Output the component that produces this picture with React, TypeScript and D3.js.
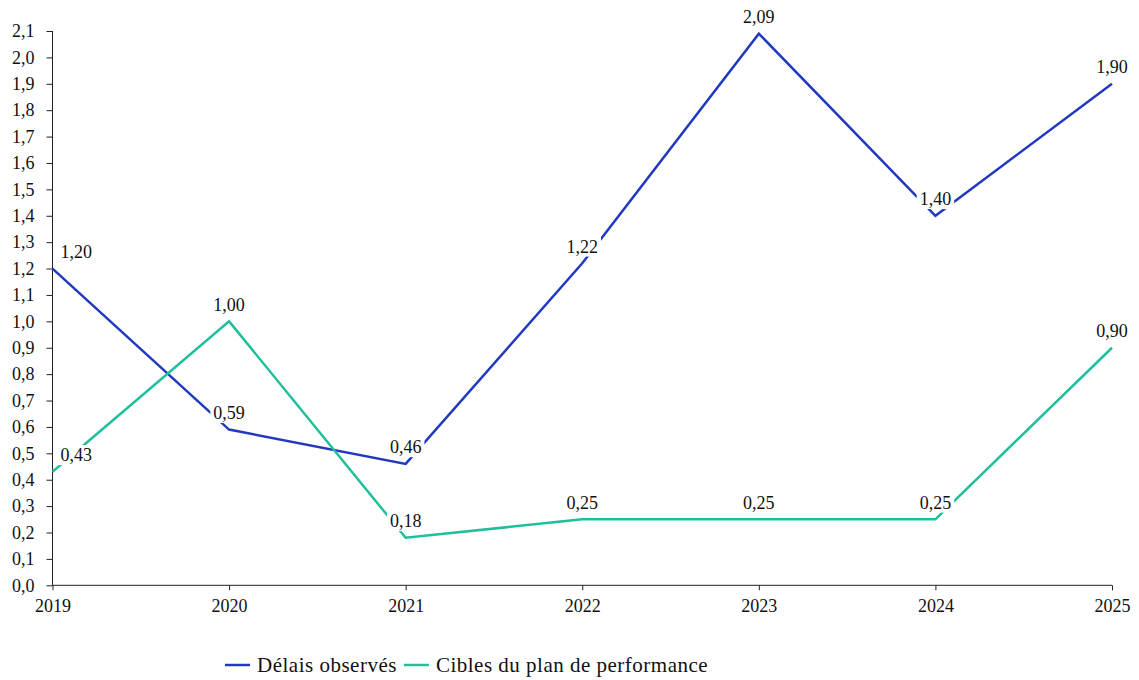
import { FC, useRef, useEffect } from 'react'
import * as d3 from 'd3'

const years = ['2019', '2020', '2021', '2022', '2023', '2024', '2025']
const observed = [1.2, 0.59, 0.46, 1.22, 2.09, 1.4, 1.9]
const targets = [0.43, 1.0, 0.18, 0.25, 0.25, 0.25, 0.9]
const yTicks = d3.range(0, 22).map(i => i / 10)

const seriesNames = ['Délais observés', 'Cibles du plan de performance']
const seriesColors = ['#2139bf', '#1fbf9b']

const fmt = (v: number, digits: number) => v.toFixed(digits).replace('.', ',')

const FONT = '"Liberation Serif", "Times New Roman", serif'

const App: FC = () => {
  const svgRef = useRef<SVGSVGElement>(null)

  useEffect(() => {
    document.body.style.margin = '0'
    if (!svgRef.current) return

    const svg = d3.select(svgRef.current)
    svg.selectAll('*').remove()

    const width = 1139
    const height = 680
    const margin = { top: 31, right: 27, bottom: 95, left: 52.5 }

    svg.attr('width', width).attr('height', height)
      .style('font-family', FONT)

    const x = d3.scalePoint<string>()
      .domain(years)
      .range([margin.left, width - margin.right])

    const y = d3.scaleLinear()
      .domain([0, 2.1])
      .range([height - margin.bottom + 0.3, margin.top])

    // axes
    const yAxis = svg.append('g')
      .attr('transform', `translate(${margin.left},0)`)
      .call(d3.axisLeft(y).tickValues(yTicks).tickSize(6).tickPadding(12).tickFormat(d => fmt(+d, 1)))
    yAxis.attr('font-family', FONT)
    yAxis.selectAll('text').attr('font-size', '18px').attr('fill', '#111')
    yAxis.selectAll('line, path').attr('stroke', '#222')
    yAxis.select('.domain').attr('d', `M0,${y(2.1)}V${y(0)}`)

    const xAxis = svg.append('g')
      .attr('transform', `translate(0,${y(0)})`)
      .call(d3.axisBottom(x).tickSize(5).tickPadding(9))
    xAxis.attr('font-family', FONT)
    xAxis.selectAll('text').attr('font-size', '18px').attr('fill', '#111')
    xAxis.selectAll('line, path').attr('stroke', '#222')
    xAxis.select('.domain').attr('d', `M${x(years[0])},0H${x(years[years.length - 1])}`)

    const line = d3.line<number>()
      .x((_, i) => x(years[i]) || 0)
      .y(d => y(d))

    const series = [observed, targets]

    series.forEach((values, s) => {
      svg.append('path')
        .datum(values)
        .attr('fill', 'none')
        .attr('stroke', seriesColors[s])
        .attr('stroke-width', 2.5)
        .attr('d', line)
    })

    // data labels with white background
    const labels = svg.append('g')
    series.forEach(values => {
      values.forEach((v, i) => {
        const px = x(years[i]) || 0
        const first = i === 0
        const g = labels.append('g')
        const t = g.append('text')
          .attr('x', first ? px + 8 : px)
          .attr('y', y(v) - 17)
          .attr('dy', '0.35em')
          .attr('text-anchor', first ? 'start' : 'middle')
          .attr('font-size', '18px')
          .attr('fill', '#111')
          .text(fmt(v, 2))
        const box = (t.node() as SVGTextElement).getBBox()
        g.insert('rect', 'text')
          .attr('x', box.x - 3)
          .attr('y', box.y)
          .attr('width', box.width + 6)
          .attr('height', box.height)
          .attr('fill', '#fff')
      })
    })

    // legend
    const legend = svg.append('g').attr('transform', 'translate(225,665)')
    let offset = 0
    seriesNames.forEach((name, s) => {
      legend.append('line')
        .attr('x1', offset).attr('x2', offset + 25)
        .attr('y1', 0).attr('y2', 0)
        .attr('stroke', seriesColors[s])
        .attr('stroke-width', 2.5)
      const t = legend.append('text')
        .attr('x', offset + 32)
        .attr('y', 0)
        .attr('dy', '0.35em')
        .attr('font-size', '21px')
        .attr('letter-spacing', '0.5px')
        .attr('fill', '#111')
        .text(name)
      offset += 32 + (t.node() as SVGTextElement).getComputedTextLength() + 7
    })
  }, [])

  return (
    <div>
      <svg ref={svgRef} style={{ display: 'block' }} />
    </div>
  )
}

export default App
